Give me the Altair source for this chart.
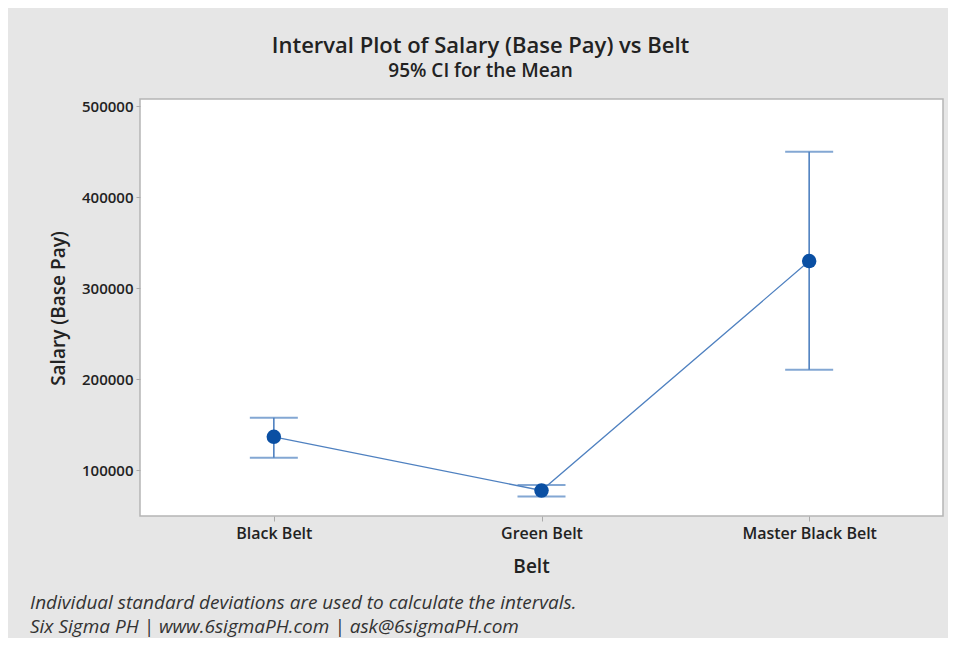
import altair as alt
import pandas as pd

belts = ["Black Belt", "Green Belt", "Master Black Belt"]
means = [137000, 78000, 330000]
lower = [114000, 71500, 210500]
upper = [158000, 84000, 450000]
y_ticks = [100000, 200000, 300000, 400000, 500000]
note1 = "Individual standard deviations are used to calculate the intervals."
note2 = "Six Sigma PH  |  www.6sigmaPH.com  |  ask@6sigmaPH.com"

df = pd.DataFrame({"Belt": belts, "mean": means, "lower": lower, "upper": upper})

FONT = "Open Sans"
BAR = "#4f81c0"
PT = "#0a4fa3"

x_enc = alt.X("Belt:N", sort=belts,
              scale=alt.Scale(type="point", padding=0.5),
              axis=alt.Axis(title="Belt", labelAngle=0, labelFontSize=16, labelFont=FONT,
                            labelFontWeight=600, labelColor="#222", labelPadding=4,
                            tickSize=5, tickColor="#aaa", domain=False,
                            titleFontSize=19, titleFont=FONT, titleFontWeight=600, titleColor="#222",
                            titleX=391, titleY=50, titleBaseline="middle", titleAlign="center"))
y_scale = alt.Scale(domain=[50000, 508000], nice=False, zero=False)
y_axis = alt.Axis(title="Salary (Base Pay)", values=y_ticks, format="d", grid=False,
                  labelFontSize=15, labelFont=FONT, labelFontWeight=600, labelColor="#222",
                  tickSize=4, tickColor="#aaa", labelPadding=3, domain=False,
                  titleFontSize=19, titleFont=FONT, titleFontWeight=600, titleColor="#222",
                  titleX=-82, titleY=209, titleAngle=-90, titleBaseline="middle", titleAlign="center")

base = alt.Chart(df)

line = base.mark_line(color=BAR, strokeWidth=1.3).encode(
    x=x_enc, y=alt.Y("mean:Q", scale=y_scale, axis=y_axis))
rule = base.mark_rule(color=BAR, strokeWidth=1.6).encode(
    x=alt.X("Belt:N", sort=belts), y="lower:Q", y2="upper:Q")
tick_lo = base.mark_tick(color=BAR, size=48, thickness=2).encode(
    x=alt.X("Belt:N", sort=belts), y="lower:Q")
tick_hi = base.mark_tick(color=BAR, size=48, thickness=2).encode(
    x=alt.X("Belt:N", sort=belts), y="upper:Q")
pts = base.mark_point(filled=True, color=PT, size=210, opacity=1).encode(
    x=alt.X("Belt:N", sort=belts), y="mean:Q")

def note(txt, ypix):
    return alt.Chart(pd.DataFrame({"t": [txt]})).mark_text(
        align="left", baseline="middle", font=FONT, fontStyle="italic",
        fontSize=19, color="#333").encode(x=alt.value(-110), y=alt.value(ypix), text="t:N")

chart = alt.layer(line, rule, tick_lo, tick_hi, pts, note(note1, 504), note(note2, 528)).properties(
    width=803, height=417,
    autosize=alt.AutoSizeParams(type="none"),
    padding={"left": 132, "top": 91, "right": 5, "bottom": 122},
    background="#e6e6e6",
    title=alt.TitleParams(text="Interval Plot of Salary (Base Pay) vs Belt",
                          subtitle="95% CI for the Mean",
                          anchor="middle", dx=-61, offset=17,
                          font=FONT, fontSize=22, fontWeight=600, color="#222",
                          subtitleFont=FONT, subtitleFontSize=19, subtitleFontWeight=600,
                          subtitleColor="#222", subtitlePadding=4),
).configure_view(stroke="#b5b5b5", strokeWidth=1.5, fill="white")

chart.save("out.html", embed_options={"renderer": "svg", "actions": False})
